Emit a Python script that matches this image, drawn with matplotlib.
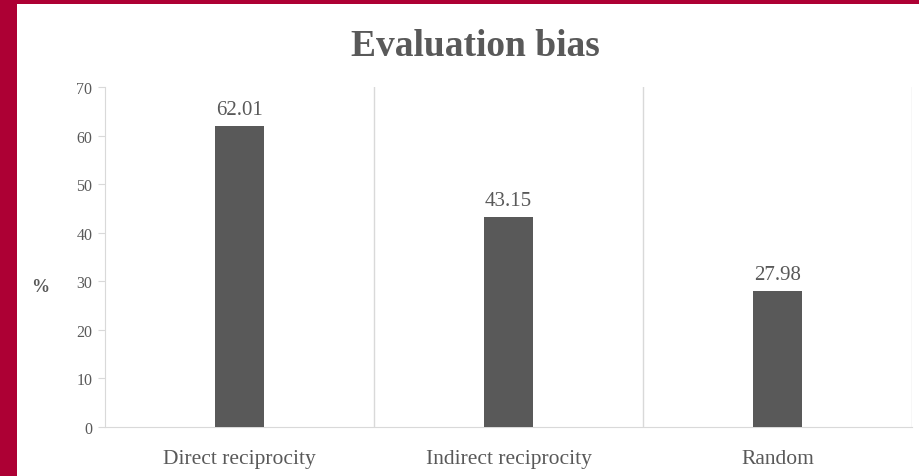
import matplotlib.pyplot as plt
from matplotlib.patches import Rectangle

categories = ["Direct reciprocity", "Indirect reciprocity", "Random"]
values = [62.01, 43.15, 27.98]
yticks = [0, 10, 20, 30, 40, 50, 60, 70]

crimson = "#ad0034"
bar_gray = "#595959"
text_gray = "#595959"
grid_gray = "#d9d9d9"
serif = ["Liberation Serif", "DejaVu Serif"]

fig = plt.figure(figsize=(9.2, 4.77), dpi=100, facecolor=crimson)
W, H = 920, 477

# white panel behind the chart
fig.patches.append(Rectangle((17 / W, 0), 1, (H - 5) / H, transform=fig.transFigure,
                             facecolor="white", edgecolor="none", zorder=-10))

ax = fig.add_axes([105 / W, (H - 428) / H, (912 - 105) / W, (428 - 88) / H])
ax.set_facecolor("none")

x = range(len(categories))
bars = ax.bar(x, values, width=0.18, color=bar_gray, zorder=3)
for b, v in zip(bars, values):
    ax.text(b.get_x() + b.get_width() / 2, v + 1.5, f"{v:.2f}", ha="center", va="bottom",
            fontsize=15, color=text_gray, family=serif)

ax.set_xlim(-0.5, len(categories) - 0.5)
ax.set_ylim(0, 70)
ax.set_yticks(yticks)
ax.set_yticklabels([str(t) for t in yticks], family=serif, fontsize=11.5, color=text_gray)
ax.tick_params(axis="y", length=5, color=grid_gray, pad=4)

# category boundaries as gridlines
for b in [0.5, 1.5, 2.5]:
    ax.axvline(b, color=grid_gray, lw=1, zorder=1)
ax.set_xticks(list(x))
ax.set_xticklabels(categories, family=serif, fontsize=15.5, color=text_gray)
ax.tick_params(axis="x", length=0, pad=16)

for s in ["top", "right"]:
    ax.spines[s].set_visible(False)
for s in ["left", "bottom"]:
    ax.spines[s].set_color(grid_gray)

fig.text(40 / W, (H - 287) / H, "%", ha="center", va="center", fontsize=13,
         fontweight="bold", color=text_gray, family=serif)
fig.text(475 / W, (H - 46) / H, "Evaluation bias", ha="center", va="center", fontsize=27,
         fontweight="bold", color=text_gray, family=serif)

fig.savefig("out.png", dpi=100, facecolor=crimson)
